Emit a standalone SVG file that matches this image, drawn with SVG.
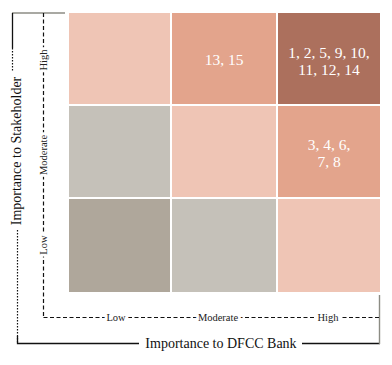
<svg xmlns="http://www.w3.org/2000/svg" width="392" height="365" viewBox="0 0 392 365">
<style>
.lp{fill:#EFC5B5}.md{fill:#E3A48C}.dk{fill:#AC705D}.lg{fill:#C5C1B9}.dg{fill:#AFA79B}
.cell-t{font-family:"Liberation Serif","Times New Roman",serif;font-size:15.5px;fill:#fff;text-anchor:middle}
.axis-t{font-family:"Liberation Serif","Times New Roman",serif;font-size:14px;fill:#111}
.lvl{font-family:"Liberation Serif","Times New Roman",serif;font-size:10.5px;fill:#222;text-anchor:middle;paint-order:stroke;stroke:#fff;stroke-width:6px;stroke-linejoin:round}
.dash{stroke:#111;stroke-width:1.2;stroke-dasharray:4 2.5;fill:none}
.dot{stroke:#111;stroke-width:1.2;stroke-dasharray:1.5 1.5;fill:none}
.solid{stroke:#111;stroke-width:1.3;fill:none}
.gray{stroke:#8C8C84;stroke-width:1.4;fill:none}
</style>
<g id="connectors">
  <line class="gray" x1="12" y1="13" x2="65" y2="13"/>
  <line class="solid" x1="12.5" y1="13" x2="12.5" y2="48"/>
  <line class="dot" x1="12.5" y1="48" x2="12.5" y2="72"/>
  <line class="dot" x1="17.5" y1="230" x2="17.5" y2="343"/>
  <polyline class="solid" points="17.5,336 17.5,343.5 139,343.5"/>
  <line class="solid" x1="302" y1="343.5" x2="380" y2="343.5"/>
  <line class="gray" x1="379.5" y1="295" x2="379.5" y2="344"/>
  <line class="dash" x1="43.5" y1="13" x2="43.5" y2="317"/>
  <line class="dash" x1="43.5" y1="317.5" x2="380" y2="317.5"/>
</g>
<g id="cell-high-low"><rect class="lp" x="69" y="13" width="101" height="91"/></g>
<g id="cell-high-moderate"><rect class="md" x="172" y="13" width="104" height="91"/><text class="cell-t" x="224" y="65">13, 15</text></g>
<g id="cell-high-high"><rect class="dk" x="278" y="13" width="102" height="91"/><text class="cell-t" x="329" y="58">1, 2, 5, 9, 10,</text><text class="cell-t" x="329" y="75">11, 12, 14</text></g>
<g id="cell-moderate-low"><rect class="lg" x="69" y="106" width="101" height="91"/></g>
<g id="cell-moderate-moderate"><rect class="lp" x="172" y="106" width="104" height="91"/></g>
<g id="cell-moderate-high"><rect class="md" x="278" y="106" width="102" height="91"/><text class="cell-t" x="329" y="150">3, 4, 6,</text><text class="cell-t" x="329" y="167">7, 8</text></g>
<g id="cell-low-low"><rect class="dg" x="69" y="199" width="101" height="93"/></g>
<g id="cell-low-moderate"><rect class="lg" x="172" y="199" width="104" height="93"/></g>
<g id="cell-low-high"><rect class="lp" x="278" y="199" width="102" height="93"/></g>
<g id="y-levels">
  <text class="lvl" transform="translate(47,60) rotate(-90)">High</text>
  <text class="lvl" transform="translate(47,155) rotate(-90)">Moderate</text>
  <text class="lvl" transform="translate(47,245) rotate(-90)">Low</text>
</g>
<g id="x-levels">
  <text class="lvl" x="116" y="321">Low</text>
  <text class="lvl" x="218" y="321">Moderate</text>
  <text class="lvl" x="328" y="321">High</text>
</g>
<g id="y-title"><text class="axis-t" text-anchor="middle" transform="translate(21,151) rotate(-90)">Importance to Stakeholder</text></g>
<g id="x-title"><text class="axis-t" text-anchor="middle" x="221" y="348">Importance to DFCC Bank</text></g>
</svg>
